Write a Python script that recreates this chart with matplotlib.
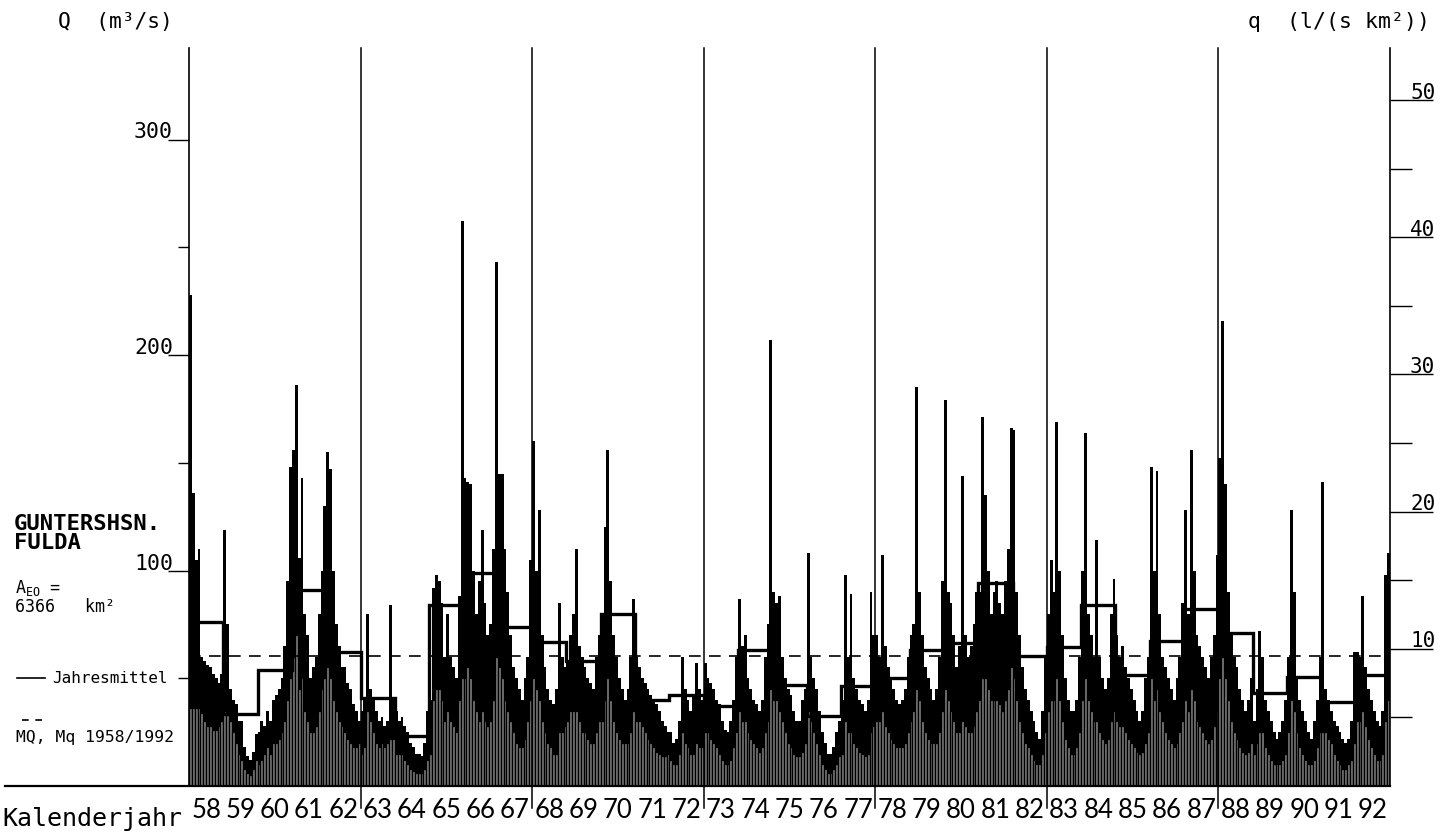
import numpy as np
import matplotlib.pyplot as plt
from matplotlib.lines import Line2D

# Abflussganglinie Guntershausen / Fulda, Monatswerte 1958-1992
years = np.arange(1958, 1993)
area_km2 = 6366
mq = 60.5  # MQ 1958/1992, m3/s

# hoechster Tagesabfluss je Monat (Jan..Dez), m3/s
q_peak = [
    [228, 136, 105, 110, 60, 58, 56, 55, 52, 50, 48, 52],
    [119, 75, 45, 40, 38, 30, 30, 18, 14, 12, 16, 24],
    [25, 30, 28, 35, 30, 40, 42, 45, 50, 65, 95, 148],
    [156, 186, 106, 143, 80, 70, 50, 55, 60, 80, 100, 130],
    [155, 147, 100, 75, 65, 55, 55, 48, 45, 38, 35, 30],
    [35, 40, 80, 45, 40, 35, 30, 32, 28, 30, 84, 40],
    [35, 30, 32, 28, 25, 20, 18, 15, 15, 14, 20, 35],
    [40, 92, 98, 95, 85, 60, 80, 60, 55, 50, 88, 262],
    [143, 141, 140, 100, 80, 95, 119, 85, 70, 75, 110, 243],
    [145, 145, 110, 90, 70, 55, 50, 45, 40, 50, 60, 105],
    [160, 100, 128, 70, 55, 45, 40, 38, 45, 85, 60, 55],
    [57, 70, 80, 110, 65, 60, 55, 50, 48, 45, 60, 70],
    [80, 120, 156, 95, 70, 60, 50, 45, 40, 45, 60, 87],
    [60, 55, 50, 48, 45, 42, 40, 38, 35, 30, 28, 25],
    [25, 20, 22, 30, 60, 45, 40, 35, 42, 57, 45, 40],
    [57, 50, 48, 45, 40, 38, 30, 26, 25, 30, 40, 60],
    [87, 65, 70, 50, 45, 40, 38, 35, 40, 60, 75, 207],
    [90, 85, 88, 60, 50, 45, 42, 35, 30, 30, 40, 45],
    [108, 60, 50, 45, 35, 25, 20, 15, 15, 18, 25, 30],
    [40, 98, 60, 89, 50, 45, 40, 38, 35, 40, 90, 70],
    [70, 60, 107, 65, 55, 50, 45, 40, 38, 40, 45, 60],
    [70, 75, 185, 90, 70, 55, 50, 45, 40, 45, 60, 95],
    [179, 90, 85, 70, 55, 65, 144, 70, 60, 65, 75, 90],
    [90, 171, 135, 100, 80, 90, 95, 85, 80, 95, 110, 166],
    [165, 90, 70, 55, 45, 40, 35, 30, 25, 22, 35, 60],
    [80, 105, 90, 169, 100, 70, 50, 40, 35, 35, 40, 60],
    [100, 164, 80, 70, 60, 114, 60, 50, 45, 50, 80, 96],
    [70, 60, 65, 55, 50, 45, 40, 35, 30, 35, 50, 60],
    [148, 100, 146, 80, 60, 55, 50, 45, 40, 50, 60, 85],
    [128, 80, 156, 100, 70, 65, 60, 55, 50, 60, 70, 107],
    [152, 216, 140, 90, 70, 60, 55, 45, 40, 35, 40, 50],
    [30, 45, 72, 60, 40, 35, 30, 25, 22, 25, 30, 40],
    [60, 128, 90, 50, 40, 35, 30, 25, 22, 30, 40, 60],
    [141, 45, 40, 35, 30, 28, 25, 22, 20, 22, 30, 62],
    [62, 60, 88, 55, 45, 40, 35, 30, 28, 35, 98, 108],
]

# niedrigster Tagesabfluss je Monat, m3/s
q_low = [
    [36, 36, 36, 36, 34, 30, 28, 28, 26, 26, 28, 30],
    [35, 33, 30, 25, 20, 15, 12, 8, 6, 5, 8, 12],
    [10, 12, 15, 18, 15, 20, 20, 22, 25, 30, 40, 50],
    [60, 70, 45, 50, 35, 30, 25, 25, 28, 35, 45, 50],
    [55, 50, 40, 35, 30, 28, 25, 22, 20, 18, 18, 20],
    [15, 18, 35, 30, 25, 20, 18, 20, 18, 20, 22, 22],
    [15, 15, 15, 12, 10, 8, 7, 6, 6, 6, 8, 12],
    [15, 40, 45, 45, 40, 30, 35, 30, 28, 25, 40, 50],
    [50, 55, 50, 40, 35, 30, 35, 30, 28, 30, 40, 60],
    [55, 50, 40, 35, 30, 25, 20, 18, 18, 22, 30, 40],
    [50, 45, 40, 30, 25, 20, 18, 15, 15, 25, 25, 28],
    [30, 35, 35, 35, 30, 25, 25, 22, 20, 20, 25, 30],
    [30, 40, 50, 40, 30, 25, 22, 20, 20, 20, 25, 35],
    [30, 30, 28, 25, 22, 20, 18, 16, 15, 14, 14, 15],
    [12, 10, 10, 15, 25, 20, 18, 15, 15, 20, 18, 18],
    [25, 25, 22, 20, 18, 15, 12, 10, 10, 12, 18, 25],
    [35, 30, 30, 25, 22, 20, 18, 16, 18, 25, 30, 45],
    [40, 40, 35, 30, 25, 20, 18, 15, 14, 14, 16, 20],
    [35, 30, 25, 20, 15, 10, 8, 6, 6, 8, 10, 14],
    [15, 30, 25, 25, 20, 18, 16, 15, 14, 15, 25, 28],
    [30, 30, 35, 28, 25, 22, 20, 18, 18, 18, 20, 25],
    [30, 35, 45, 40, 30, 25, 22, 20, 20, 20, 25, 35],
    [45, 40, 35, 30, 25, 25, 30, 28, 25, 25, 28, 35],
    [40, 50, 50, 45, 40, 40, 40, 38, 35, 40, 45, 55],
    [50, 40, 30, 25, 20, 18, 15, 12, 10, 10, 15, 25],
    [35, 40, 40, 50, 40, 30, 22, 18, 15, 15, 18, 25],
    [40, 50, 40, 35, 30, 30, 25, 22, 20, 22, 30, 35],
    [30, 28, 28, 25, 22, 20, 18, 16, 15, 16, 20, 25],
    [50, 40, 45, 35, 30, 25, 22, 20, 18, 20, 25, 30],
    [40, 35, 45, 40, 30, 28, 25, 22, 20, 22, 28, 35],
    [50, 60, 50, 40, 30, 25, 22, 18, 16, 15, 16, 20],
    [15, 20, 25, 25, 18, 15, 12, 10, 10, 10, 12, 15],
    [25, 40, 35, 25, 18, 15, 12, 10, 10, 12, 18, 25],
    [25, 25, 22, 20, 15, 12, 10, 8, 8, 10, 12, 20],
    [30, 30, 35, 28, 22, 18, 15, 12, 12, 15, 30, 40],
]

# Jahresmittel, m3/s
q_year = [76, 33.5, 54, 91, 62, 41, 23, 84, 99, 74, 67, 58, 80, 40, 42, 37,
          63, 47, 32.5, 46.5, 50, 63, 66.5, 94, 60.5, 64.5, 84, 51.5, 67.5,
          82, 71, 43, 50.5, 39, 51.5]

year_labels = [str(y)[2:] for y in years]
q_left_major = [100, 200, 300]
q_left_minor = [50, 150, 250]
q_right_major = [10, 20, 30, 40, 50]
q_right_minor = [5, 15, 25, 35, 45]

W, H = 1455, 832
PX_YEAR = 1201 / 35      # pixels per year
PX_Q = 2.155             # pixels per m3/s
MONO = ['DejaVu Sans Mono']
YEARFONT = ['Lato', 'DejaVu Sans']


def fx(px):
    return px / W


def fy(py):
    return 1 - py / H


fig = plt.figure(figsize=(W / 100, H / 100), dpi=100)
ax = fig.add_axes([fx(189), fy(786), 1201 / W, 738 / H])
q_top = 738 / PX_Q
ax.set_xlim(1958, 1993)
ax.set_ylim(0, q_top)

# Monatsbalken: schwarz bis zum Hoechstwert, grau bis zum Niedrigstwert
t0 = (np.repeat(years, 12) + np.tile(np.arange(12), len(years)) / 12.0)
ax.bar(t0, np.ravel(q_peak), width=1 / 12, align='edge', color='black',
       linewidth=0)
ax.bar(t0, np.ravel(q_low), width=1 / 12, align='edge', color='#767676',
       edgecolor='black', linewidth=0.9)

# Jahresmittel als Treppenlinie, MQ gestrichelt
ax.stairs(q_year, np.append(years, years[-1] + 1), baseline=None,
          color='black', lw=2.4)
ax.axhline(mq, color='black', lw=1.2, ls=(0, (7, 5)))

# Fuenfjahres-Trennlinien
for yr in range(1963, 1993, 5):
    ax.plot([yr, yr], [-22 / PX_Q, q_top], color='black', lw=1.1,
            clip_on=False)
ax.plot([1958 - 184 / PX_YEAR, 1993], [0, 0], color='black', lw=1.6,
        clip_on=False)

for side in ['top', 'bottom', 'right']:
    ax.spines[side].set_visible(False)
ax.spines['left'].set_linewidth(1.2)

# linke Achse Q
ax.set_yticks(q_left_major)
ax.set_yticks(q_left_minor, minor=True)
ax.tick_params(axis='y', which='major', length=15, width=1.0,
               labelleft=False)
ax.tick_params(axis='y', which='minor', length=8, width=1.0)
for v in q_left_major:
    ax.text(-16 / 1201, v + 1 / PX_Q, str(v), transform=ax.get_yaxis_transform(),
            ha='right', va='baseline', family=MONO, fontsize=15.5)

# Jahreszahlen
ax.set_xticks(years + 0.5, year_labels)
ax.tick_params(axis='x', length=0, pad=9)
for lab in ax.get_xticklabels():
    lab.set_family(YEARFONT)
    lab.set_fontsize(18.5)

# rechte Achse q = Q / AEO
ax2 = ax.twinx()
ax2.set_ylim(0, q_top * 1000 / area_km2)
for side in ['top', 'bottom', 'left']:
    ax2.spines[side].set_visible(False)
ax2.spines['right'].set_linewidth(1.2)
ax2.set_yticks(q_right_major)
ax2.set_yticks(q_right_minor, minor=True)
ax2.tick_params(axis='y', which='major', length=31, width=1.0,
                labelright=False)
ax2.tick_params(axis='y', which='minor', length=16, width=1.0)
for v in q_right_major:
    ax2.text(1 + 20 / 1201, v + 1.5 / PX_Q * 1000 / area_km2, str(v),
             transform=ax2.get_yaxis_transform(), ha='left', va='baseline',
             family=MONO, fontsize=15)

# Beschriftungen
fig.text(fx(58), fy(28), 'Q  (m³/s)', family=MONO, fontsize=15.3,
         va='baseline')
fig.text(fx(1248), fy(28), 'q  (l/(s km²))', family=MONO, fontsize=15.5,
         va='baseline')
fig.text(fx(2), fy(826), 'Kalenderjahr', family=MONO, fontsize=18,
         va='baseline')

fig.text(fx(14), fy(549), 'GUNTERSHSN.\nFULDA', family=MONO, fontsize=16,
         fontweight='bold', va='baseline', linespacing=0.92)
fig.text(fx(15), fy(612), 'A$_\\mathregular{EO}$ =\n6366   km²', family=MONO,
         fontsize=12, va='baseline', linespacing=1.0)

fig.add_artist(Line2D([fx(17), fx(45)], [fy(678), fy(678)], color='black',
                      lw=1.2, transform=fig.transFigure))
fig.text(fx(52), fy(683), 'Jahresmittel', family=MONO, fontsize=11.5,
         va='baseline')
fig.add_artist(Line2D([fx(22), fx(43)], [fy(720), fy(720)], color='black',
                      lw=1.2, ls=(0, (4, 4)), transform=fig.transFigure))
fig.text(fx(16), fy(742), 'MQ, Mq 1958/1992', family=MONO, fontsize=11.8,
         va='baseline')

fig.savefig('out.png', dpi=100, facecolor='white')
